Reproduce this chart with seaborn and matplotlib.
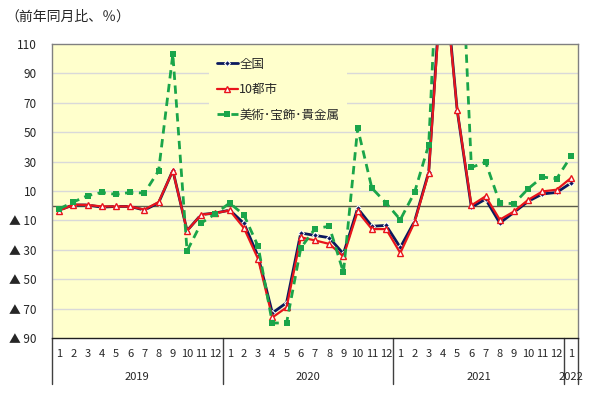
import numpy as np
import pandas as pd
from matplotlib import pyplot as plt
from matplotlib.lines import Line2D
import matplotlib.transforms as mtransforms
import seaborn as sns

# months 2019/1 .. 2022/1
years = ['2019'] * 12 + ['2020'] * 12 + ['2021'] * 12 + ['2022']
months = [str(m) for m in range(1, 13)] * 3 + ['1']

zenkoku = [-3, 0.5, 0.5, -1, -0.5, -0.5, -3, 2, 24, -17, -6, -5,
           -3, -12, -34.5, -73, -66, -18.6, -20.2, -21.8, -32.7, -1.8, -14, -13.4,
           -28.4, -10.7, 23, 170, 65, -1.1, 4.5, -11.8, -4.5, 3, 8, 9, 15.4]
toshi10 = [-3.4, 0.7, 0.5, -0.5, -0.5, -0.5, -2.7, 2.5, 23.8, -17, -6.1, -5,
           -3.2, -15.2, -36.3, -76, -69.2, -21.5, -23.6, -26, -34.5, -3.9, -15.9, -15.9,
           -32.2, -11.3, 22, 165, 65.3, 0.2, 6.4, -9.5, -3.9, 4, 9.7, 10.9, 18.8]
bijutsu = [-2.2, 2.5, 6.8, 9, 7.7, 9, 8.6, 23.8, 103, -30.8, -11.8, -5.4,
           1.8, -6.3, -27.7, -79.8, -79.8, -28.8, -15.6, -14, -45.4, 52.8, 12, 1.8,
           -9.5, 9, 41.5, 250, 245, 26, 29.7, 1.8, 1.4, 11.6, 19.5, 18.4, 33.5]

series_names = ['全国', '10都市', '美術･宝飾･貴金属']
yticks = [110, 90, 70, 50, 30, 10, -10, -30, -50, -70, -90]
ytick_labels = [str(v) if v > 0 else '▲ ' + str(-v) for v in yticks]

sns.set_theme(style='white')
plt.rcParams['font.family'] = ['Noto Sans CJK JP', 'DejaVu Sans']

df = pd.DataFrame({'idx': np.arange(len(months)), '全国': zenkoku,
                   '10都市': toshi10, '美術･宝飾･貴金属': bijutsu})

fig = plt.figure(figsize=(6, 3.99), dpi=100)
ax = fig.add_axes([52 / 600, 61 / 399, 526 / 600, 294 / 399])
bg = '#FFFFCC'
ax.set_facecolor(bg)

styles = {
    '全国': dict(color='#0B1A5E', marker='D', markersize=3, linewidth=2.0),
    '10都市': dict(color='#E8141B', marker='^', markersize=5, linewidth=1.6,
                 markerfacecolor='white', markeredgecolor='#E8141B', markeredgewidth=1),
    '美術･宝飾･貴金属': dict(color='#1AA54A', marker='s', markersize=5, linewidth=2.0,
                    linestyle=(0, (3, 2)), markeredgewidth=0),
}
for name in series_names:
    sns.lineplot(data=df, x='idx', y=name, ax=ax, label=name, **styles[name])

ax.set_ylim(-90, 110)
ax.set_xlim(-0.5, len(months) - 0.5)
ax.set_yticks(yticks)
ax.set_yticklabels(ytick_labels, fontsize=8.5)
ax.set_xticks(np.arange(len(months)))
ax.set_xticklabels(months, fontsize=8)
ax.tick_params(axis='both', length=0)
ax.tick_params(axis='x', pad=8)
ax.tick_params(axis='y', pad=11)
ax.set_xlabel('')
ax.set_ylabel('')

for v in [90, 70, 50, 30, 10, -10, -30, -50, -70]:
    ax.axhline(v, color='#D9D9D9', linewidth=1, zorder=0.5)
ax.axhline(0, color='#5A5A4A', linewidth=1, zorder=1)

for s in ['top', 'right', 'left']:
    ax.spines[s].set_color('#808080')
ax.spines['bottom'].set_color('#202020')
for s in ax.spines.values():
    s.set_linewidth(1)

# year separators and labels
trans = mtransforms.blended_transform_factory(ax.transData, ax.transAxes)
uyears = list(dict.fromkeys(years))
bounds = [-0.5]
for y in uyears:
    idxs = [i for i, yy in enumerate(years) if yy == y]
    bounds.append(idxs[-1] + 0.5)
    ax.text(np.mean(idxs), -0.133, y, transform=trans, ha='center', va='center',
            fontsize=8)
for b in bounds:
    ax.add_line(Line2D([b, b], [0, -0.157], transform=trans, color='#404040',
                       linewidth=1, clip_on=False))

leg = ax.legend(loc='upper left', bbox_to_anchor=(203 / 600, 1 - 44 / 399),
                bbox_transform=fig.transFigure, frameon=True, facecolor=bg,
                edgecolor='none', framealpha=1, fontsize=9, handlelength=1.7,
                handletextpad=0.1, labelspacing=1.0, borderpad=0.6, numpoints=1)
leg.get_frame().set_boxstyle('square', pad=0)

fig.text(5 / 600, 1 - 17 / 399, '（前年同月比、％）', fontsize=10, va='center', ha='left')

fig.savefig('out.png', dpi=100, facecolor='white')
